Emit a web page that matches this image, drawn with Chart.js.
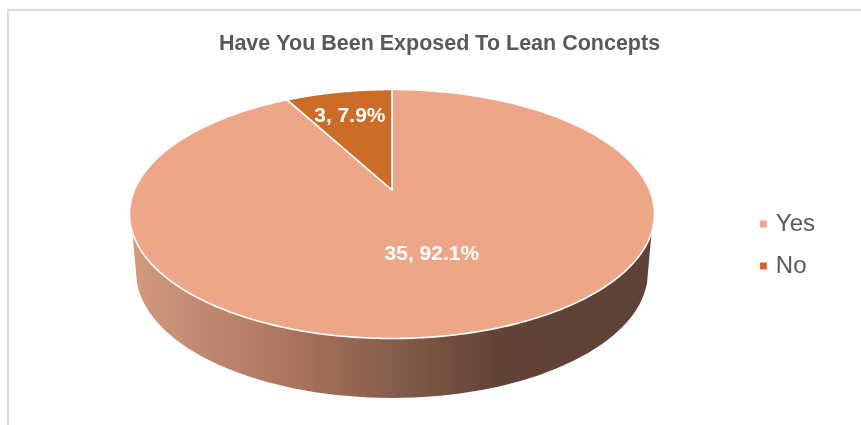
<!DOCTYPE html>
<html>
<head>
<meta charset="utf-8">
<style>
  html, body { margin: 0; padding: 0; background: #fff; overflow: hidden; }
  #stage { position: relative; width: 861px; height: 425px; overflow: hidden; }
  #frame { position: absolute; left: 7px; top: 9px; width: 900px; height: 500px;
           border-left: 2px solid #dcdcdc; border-top: 2px solid #dcdcdc; }
  canvas { position: absolute; left: 0; top: 0; }
</style>
<script src="https://cdn.jsdelivr.net/npm/chart.js@4"></script>
</head>
<body>
<div id="stage">
  <div id="frame"></div>
  <canvas id="pie" width="861" height="425"></canvas>
</div>
<script>
const chartTitle = 'Have You Been Exposed To Lean Concepts';
const categories = ['Yes', 'No'];
const responses = [35, 3];
const sliceColors = ['#EDA687', '#CC6C28'];
const textColor = '#595959';

// Tilted-disc view: a unit circle is projected so its centre lands above the
// middle of the rim ellipse, as a perspective camera would show it.
const view = { cx: 392, cy: 214, halfHeight: 124.5, halfWidth: 262.5, hubY: 190 };
const skew = (view.hubY - view.cy) / (2 * view.halfHeight) * 2;
const widthScale = view.halfWidth * Math.sqrt(1 - skew * skew);

function project(X, Y) {
  const w = 1 + skew * Y;
  return {
    x: view.cx + widthScale * X / w,
    y: view.cy + (view.halfHeight * Y + (view.hubY - view.cy)) / w
  };
}

// Label placement along each slice's bisector, plus a small sideways nudge.
const labelRadii = [0.5, 0.72];
const labelNudgeX = [5, -2];

const tiltedPie = {
  id: 'tiltedPie',
  beforeDatasetDraw(chart, args) {
    const { ctx } = chart;
    const arcs = args.meta.data;
    const total = responses.reduce((a, b) => a + b, 0);

    // Side wall of the disc
    const wall = ctx.createLinearGradient(137, 0, 647, 0);
    wall.addColorStop(0, '#D2997E');
    wall.addColorStop(0.34, '#A56F59');
    wall.addColorStop(0.52, '#835B4A');
    wall.addColorStop(0.70, '#624437');
    wall.addColorStop(1, '#5E4236');
    ctx.save();
    ctx.beginPath();
    ctx.moveTo(132, 228);
    ctx.ellipse(392, 272, 256, 126, 0, Math.PI - 0.0875, 0.0875, true);
    ctx.lineTo(652, 228);
    ctx.closePath();
    ctx.fillStyle = wall;
    ctx.fill();

    // Top face, one wedge per arc element
    arcs.forEach((arc, i) => {
      const steps = Math.max(8, Math.ceil((arc.endAngle - arc.startAngle) * 90));
      ctx.beginPath();
      const hub = project(0, 0);
      ctx.moveTo(hub.x, hub.y);
      for (let s = 0; s <= steps; s++) {
        const a = arc.startAngle + (arc.endAngle - arc.startAngle) * s / steps;
        const p = project(Math.cos(a), Math.sin(a));
        ctx.lineTo(p.x, p.y);
      }
      ctx.closePath();
      ctx.fillStyle = sliceColors[i];
      ctx.fill();
      ctx.lineWidth = 1.6;
      ctx.lineJoin = 'round';
      ctx.strokeStyle = '#FFFFFF';
      ctx.stroke();
    });

    // Value labels
    ctx.font = 'bold 21px "Liberation Sans", Arial, sans-serif';
    ctx.fillStyle = '#FFFFFF';
    ctx.textAlign = 'center';
    ctx.textBaseline = 'middle';
    arcs.forEach((arc, i) => {
      const mid = (arc.startAngle + arc.endAngle) / 2;
      const r = labelRadii[i];
      const p = project(r * Math.cos(mid), r * Math.sin(mid));
      const pct = (responses[i] / total * 100).toFixed(1);
      ctx.fillText(`${responses[i]}, ${pct}%`, p.x + labelNudgeX[i], p.y);
    });
    ctx.restore();
    return false;
  }
};

new Chart(document.getElementById('pie'), {
  type: 'pie',
  data: {
    labels: categories,
    datasets: [{ data: responses, backgroundColor: sliceColors, borderWidth: 0 }]
  },
  options: {
    responsive: false,
    animation: false,
    layout: { padding: { left: 54, right: 36, top: 20, bottom: -45 } },
    plugins: {
      tooltip: { enabled: false },
      title: {
        display: true,
        text: chartTitle,
        color: textColor,
        font: { family: '"Liberation Sans", Arial, sans-serif', size: 21.5, weight: 'bold' },
        padding: { top: 11, bottom: 10 }
      },
      legend: {
        position: 'right',
        labels: {
          usePointStyle: true,
          pointStyle: 'rect',
          boxHeight: 7,
          boxWidth: 1,
          padding: 18,
          color: textColor,
          font: { family: '"Liberation Sans", Arial, sans-serif', size: 24 }
        }
      }
    }
  },
  plugins: [tiltedPie]
});
</script>
</body>
</html>
